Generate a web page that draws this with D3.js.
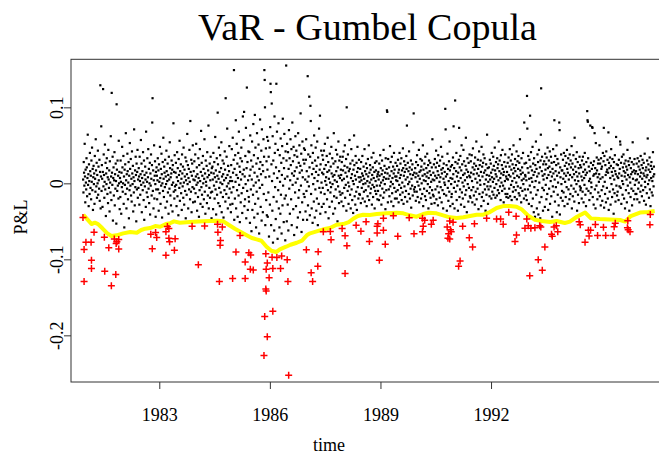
<!DOCTYPE html>
<html>
<head>
<meta charset="utf-8">
<script src="https://cdn.jsdelivr.net/npm/d3@7"></script>
<style>
  body { margin: 0; background: #fff; }
  svg { display: block; }
  text { font-family: "Liberation Serif", "Times New Roman", serif; fill: #000; }
</style>
</head>
<body>
<svg width="659" height="455"></svg>
<script>
// tick labels
const xTicks = [1983, 1986, 1989, 1992];
const yTicks = [-0.2, -0.1, 0, 0.1];

// daily P&L above the VaR, in 1/1000, one row per half year from 1980.93
const blockStart = 1980.93;
const blockSpan = 0.5;
const pnlBlocks = [
  [5,-12,28,14,-3,52,9,-25,18,1,-8,33,21,-17,7,64,-2,12,-30,25,3,-14,40,16,-6,10,-21,30,2,47,-9,19,-35,8,23,-1,13,-27,36,6,-11,58,17,-4,27,-19,11,0,43,-15,22,4,-7,31,-23,15,129,-33,9,75],
  [-10,24,6,-31,15,124,-4,38,11,-19,2,51,-8,27,-43,13,-1,33,20,-14,8,-26,44,5,-6,17,-37,29,1,-12,62,9,-22,119,14,-2,35,-49,7,21,-16,4,41,-29,12,-7,26,3,-53,104,18,-10,30,-3,10,-20,56,0,15,-34],
  [7,-18,30,2,-40,14,-5,48,21,-11,0,36,-27,9,-58,18,-2,25,-14,66,4,-33,12,-7,39,16,-21,1,28,-46,10,-9,53,19,-3,32,-16,6,-24,42,13,-1,23,-37,8,-12,71,3,-29,17,-5,35,11,-50,26,-8,15,44,-19,5],
  [-6,20,9,-28,35,3,-15,12,57,-2,26,-38,7,16,-9,41,1,-22,30,-48,11,-4,22,5,-31,68,14,-12,2,33,-18,8,45,-7,19,-26,0,27,-41,13,-3,38,6,-16,24,80,112,-10,17,-33,4,50,-20,10,29,-1,-44,15,-8,21],
  [10,-21,4,33,-8,17,-36,25,2,-13,48,7,-27,19,-3,39,12,-45,0,28,-10,60,6,-18,22,14,-5,31,-32,9,-1,43,16,-24,3,26,-12,11,-40,35,5,-7,54,20,-16,8,-29,13,30,-2,18,-37,24,1,79,-11,15,-20,37,-4],
  [-9,14,27,-2,-30,8,41,-17,20,3,-42,32,11,-6,56,-23,16,0,25,-13,6,-35,38,13,-4,22,-19,47,1,-28,18,9,-10,34,-46,4,29,-15,12,65,-1,24,-33,7,19,-8,44,2,-21,82,15,-11,31,-38,10,26,-5,50,-25,5],
  [16,-7,29,4,-24,38,-13,9,52,-2,21,-36,12,1,-18,33,7,-44,24,-9,45,3,-27,15,69,-5,27,-15,10,-31,36,0,19,-21,6,58,-11,13,-40,30,2,-3,23,-26,41,8,-16,17,76,-33,11,-6,26,-19,4,35,-12,14,-46,20],
  [-11,22,5,-34,40,13,-3,28,-20,8,61,-8,17,-41,2,33,-15,10,93,25,-26,6,47,-6,15,-30,37,1,-12,20,54,-38,9,-1,30,-18,12,-45,26,4,-9,42,18,-24,112,7,-14,35,-4,72,11,-33,23,0,-19,16,49,-7,3,-28],
  [8,-38,24,-12,45,3,-27,60,14,-5,31,149,-48,19,-20,37,2,83,-33,11,52,-9,26,-44,7,40,-16,68,-2,22,-51,15,33,-25,5,47,-13,29,-39,12,88,-6,57,18,94,-30,9,-21,36,-1,73,-46,20,126,-10,28,-35,4,42,-18],
  [-24,41,10,-52,63,18,-8,30,-63,5,55,-35,22,-15,78,-3,37,-45,14,90,-27,47,1,-58,26,-11,66,9,-40,33,-20,51,4,-66,19,-6,84,28,-31,12,43,-49,71,-2,24,-38,16,58,-14,35,149,136,100,-55,8,46,-22,29,-42,61],
  [18,-44,56,-12,35,-70,9,47,-28,74,131,120,-55,25,105,3,-36,62,-78,30,-18,13,-62,88,40,-5,52,-47,21,131,-24,68,7,-73,44,-9,79,-33,16,-58,37,2,-40,59,-15,27,-66,11,49,-29,85,-3,33,-51,20,65,-20,6,-75,42],
  [-16,155,30,-50,52,9,-28,41,-62,19,70,-7,33,-40,4,58,24,-21,45,-55,13,80,-2,29,-34,48,10,-68,37,16,-12,62,1,-30,43,21,-58,35,6,-45,66,-19,27,-9,50,14,-38,23,92,-3,39,-64,17,-25,55,8,-48,31,-14,46],
  [26,-18,44,5,-37,31,58,-10,16,-48,2,141,-29,38,9,-4,114,21,-42,35,102,82,-14,50,-33,12,27,-52,40,-1,19,-24,63,7,-45,30,-8,47,15,-36,23,-20,55,3,-55,34,11,-27,72,-6,18,89,-40,25,-12,43,1,-31,14,37],
  [-6,31,12,-27,43,19,-14,52,3,-38,24,8,-2,36,-21,15,60,-9,28,-46,6,17,-31,39,1,-12,22,-5,48,13,-24,33,-1,9,-40,26,66,-17,11,4,-33,29,-8,44,16,-19,2,38,-50,21,-4,55,10,-26,30,-11,7,35,-15,18],
  [11,-24,28,4,-13,35,17,-30,42,6,-6,23,50,-19,14,-2,32,-36,100,9,21,-10,38,1,-27,16,-4,57,19,-15,26,-33,7,45,-8,12,-22,30,3,-39,18,-1,63,24,-17,10,-28,36,5,-11,27,-35,15,48,-5,20,-20,8,31,-14],
  [2,-15,19,8,-26,28,4,-6,13,36,-20,10,-1,22,-11,6,45,-24,16,0,-9,26,12,-30,20,3,-17,32,9,-4,50,-22,14,1,24,-13,18,-7,5,34,-28,11,-2,21,-18,40,7,-5,15,-33,27,-10,3,17,-14,29,-3,9,-21,12],
  [-10,15,5,-22,26,10,-3,37,-16,20,1,-28,12,30,-7,17,4,-19,44,8,-12,23,-1,14,-34,33,6,-9,19,96,94,13,-25,32,6,-8,21,-17,10,49,-4,28,2,-24,16,35,-13,7,-1,22,-30,13,40,-6,18,-20,9,27,-11,4],
  [9,-20,23,3,-9,31,14,-25,18,-2,40,7,-15,26,11,-6,33,-22,17,1,-12,46,20,-27,10,29,-4,15,-18,24,5,-10,36,19,76,-24,8,27,-1,16,-14,42,2,21,-20,12,-7,30,-32,6,18,-3,25,-16,11,54,92,-8,14,-11],
  [-5,20,8,-23,28,13,-11,37,2,-18,24,10,-3,44,-25,15,6,-8,32,17,-20,22,0,30,-14,10,50,-30,18,4,-7,26,12,-17,35,3,-22,20,9,-10,39,14,-1,24,-33,7,30,-13,16,-5,27,-19,11,2,-27,21,-9,58,5,-15],
  [14,-17,25,4,-26,32,10,-8,21,43,-21,7,27,-4,16,-29,37,11,-12,23,2,-19,30,8,-5,48,18,-25,13,35,-9,20,-33,6,26,-14,1,15,-2,98,71,9,-16,24,-36,12,39,-6,19,-23,3,29,-11,55,17,-30,7,22,-1,-18],
  [-14,24,6,-27,34,12,75,-6,20,-33,2,109,28,-11,16,40,-22,9,-3,26,-36,14,3,31,73,-18,21,-8,36,7,-28,17,50,-12,25,1,-20,11,44,-4,29,-31,13,4,-15,23,60,-9,18,-38,8,33,-1,15,-24,27,-6,10,38,-17],
  [8,-19,29,14,-9,37,3,-25,21,46,-5,12,-16,26,18,-28,34,6,-11,23,55,-21,13,1,-7,31,19,-34,10,42,-14,24,4,-2,30,15,-30,48,-18,22,9,-12,27,38,-23,14,-1,33,-8,17,-36,5,25,-15,11,64,-4,20,-27,2],
  [-8,21,10,-17,31,5,-4,26,14,-20,40,8,-11,18,2,35,-15,23,6,-6,47,17,-19,12,28,-1,9,-16,33,20,-9,25,4,55,-13,16,30,-4,7,-22,37,13,1,24,-10,44,19,-3,11,-25,15,28,-7,3,38,-14,22,9,-18,6],
  [15,-14,27,5,-19,34,11,-7,22,45,-17,9,30,-2,18,-22,38,3,25,-11,13,50,-5,20,7,-18,32,16,-9,24,1,42,-21,10,29,-4,19,36,-13,8,27,-16,58,17,-6,12,-25,33,4,21,-10,14,40,-1,6,-20,80,26,-8,11],
  [9,-16,27,4,-22,115,72,20,-8,36,14,-27,6,31,-3,89,22,-12,41,7,-30,17,2,48,-20,26,11,-38,33,-5,15,-44,24,3,55,-15,19,-33,9,38,-9,28,-41,13,44,1,-25,21,-46,30,64,125,-18,16,35,-6,10,-36,25,5],
  [-9,29,12,-31,39,18,-2,25,-21,34,7,-14,47,20,-35,11,30,-7,22,42,-27,15,3,35,-17,27,9,-44,19,-4,45,13,-11,28,83,5,-24,36,16,-5,24,50,-38,10,32,-15,1,26,-29,14,80,70,-41,21,8,-19,38,-1,17,-10],
  [17,-23,31,6,-12,40,13,-30,23,2,36,-18,10,27,-5,44,19,-27,14,33,-8,5,25,-21,38,11,-14,30,21,-3,49,-33,8,26,-17,18,37,-7,12,-24,60,4,22,-11,32,15,-1,41,-36,9,28,-15,3,20,-26,13,35,-4,24,-9],
  [-6,21,9,-20,30,4,-11,35,15,-25,25,7,-2,40,18,-15,11,-30,28,-7,14,95,83,81,33,-10,22,3,-22,16,6,76,-13,27,1,-5,19,74,73,-18,24,10,-28,29,12,66,-8,20,-33,53,13,-3,34,17,-21,8,26,-12,31,2],
  [12,50,-17,26,6,-29,33,19,-9,22,-23,8,40,-4,29,73,-32,36,2,-14,24,11,-25,42,15,-6,18,31,-20,14,67,-35,27,20,-11,34,7,-28,23,45,-1,15,-18,32,10,-8,20,-40,28,5,-13,37,16,-24,12,61,-3,25,-16,9],
  [-11,24,7,-22,31,13,-4,19,55,51,-6,27,-27,10,35,3,-15,21,-1,38,16,-20,26,9,-33,14,30,-9,22,5,-25,18,44,-3,11,29,-13,24,-36,8,33,1,-18,20,12,-7,28,-29,15,54,6,-10,25,17,-21,32,-2,13,-14,4],
  [16,-14,26,5,-21,33,12,-7,22,1,29,-25,18,9,-11,36,14,-3,24,-17,6,31,20,-9,13,27,-23,10,39,2,-5,17,-28,21,8,-13,30,11,59,-1,25,18,-19,4,34,-8,15,-30,23,7,28,-12,19,3,-16,41,9,-4,22,12]
];

// days where the loss went through the VaR: [year, P&L]
const losses = [
  [1980.93,-0.045],[1981.23,-0.0645],[1981.01,-0.0776],[1981.15,-0.0776],[1980.96,-0.0871],
  [1981.51,-0.0711],[1981.16,-0.1013],[1981.16,-0.1121],[1980.96,-0.1292],[1981.52,-0.1158],
  [1981.82,-0.1200],[1981.70,-0.1349],[1981.63,-0.0849],[1981.90,-0.0864],[1981.78,-0.0733],
  [1981.85,-0.0768],[1981.90,-0.0739],[1981.83,-0.0792],[1982.81,-0.0862],[1982.77,-0.0670],
  [1982.90,-0.0647],[1982.93,-0.0713],[1983.22,-0.0567],[1983.26,-0.0595],[1983.18,-0.0637],
  [1983.26,-0.0722],[1983.43,-0.0729],[1983.28,-0.0770],[1983.41,-0.0880],[1983.18,-0.0947],
  [1984.06,-0.1072],[1983.89,-0.0566],[1984.23,-0.0562],[1984.58,-0.0539],[1984.71,-0.0575],
  [1984.59,-0.0645],[1984.66,-0.0753],[1984.65,-0.0814],[1984.63,-0.1292],[1985.08,-0.0904],
  [1984.99,-0.1253],[1985.33,-0.1253],[1985.33,-0.1036],[1985.43,-0.0914],[1985.48,-0.0943],
  [1985.47,-0.1130],[1985.55,-0.1141],[1985.19,-0.0687],[1985.89,-0.0928],[1985.93,-0.1049],
  [1985.90,-0.1130],[1986.08,-0.1121],[1986.29,-0.1121],[1985.98,-0.1243],[1986.49,-0.1292],
  [1985.89,-0.1391],[1985.90,-0.1417],[1985.86,-0.1753],[1986.08,-0.1683],[1985.93,-0.2020],
  [1985.84,-0.2266],[1986.51,-0.2525],[1986.06,-0.0972],[1986.19,-0.0976],[1986.32,-0.0957],
  [1986.47,-0.1007],[1986.99,-0.0875],[1987.31,-0.0901],[1987.30,-0.1091],[1987.12,-0.1178],
  [1987.16,-0.1292],[1987.66,-0.0743],[1987.64,-0.0634],[1987.45,-0.0637],[1987.96,-0.0595],
  [1988.04,-0.0691],[1988.09,-0.0822],[1988.04,-0.1187],[1988.34,-0.0551],[1988.47,-0.0630],
  [1988.61,-0.0507],[1988.70,-0.0766],[1988.97,-0.1013],[1988.93,-0.0532],[1988.91,-0.0566],
  [1989.08,-0.0461],[1988.91,-0.0654],[1989.08,-0.0618],[1989.13,-0.0803],[1989.47,-0.0697],
  [1989.35,-0.0426],[1989.91,-0.0663],[1990.14,-0.0461],[1990.20,-0.0487],[1990.16,-0.0566],
  [1990.14,-0.0637],[1990.43,-0.0487],[1990.38,-0.0539],[1989.78,-0.0453],[1990.81,-0.0575],
  [1990.90,-0.0611],[1990.92,-0.0637],[1990.85,-0.0663],[1990.83,-0.0724],[1990.88,-0.0733],
  [1990.88,-0.0496],[1990.97,-0.0513],[1991.23,-0.0566],[1991.55,-0.0532],[1991.41,-0.0716],
  [1991.50,-0.0838],[1991.16,-0.1022],[1991.12,-0.1092],[1991.88,-0.0461],[1992.15,-0.0470],
  [1992.26,-0.0470],[1992.33,-0.0539],[1992.48,-0.0382],[1992.68,-0.0434],[1992.69,-0.0680],
  [1992.65,-0.0766],[1992.97,-0.0470],[1993.01,-0.0558],[1992.92,-0.0592],[1993.08,-0.0592],
  [1993.19,-0.0584],[1993.32,-0.0558],[1993.35,-0.0575],[1993.77,-0.0558],[1993.71,-0.0575],
  [1993.81,-0.0637],[1993.64,-0.0671],[1993.66,-0.0697],[1993.46,-0.0838],[1993.28,-0.1005],
  [1993.39,-0.1145],[1993.05,-0.1216],[1994.39,-0.0507],[1994.42,-0.0546],[1994.64,-0.0617],
  [1994.70,-0.0617],[1994.66,-0.0693],[1994.55,-0.0775],[1994.83,-0.0542],[1994.89,-0.0687],
  [1995.05,-0.0578],[1995.11,-0.0687],[1995.31,-0.0687],[1995.34,-0.0572],[1995.37,-0.0525],
  [1995.70,-0.0584],[1995.72,-0.0611],[1995.77,-0.0637],[1995.71,-0.0492],[1996.31,-0.0546],
  [1996.32,-0.0411]
];

// the VaR estimate (yellow line)
const varDates = [1980.94,1981.05,1981.16,1981.25,1981.34,1981.45,1981.59,1981.70,1981.84,1982.02,
  1982.21,1982.39,1982.51,1982.62,1982.75,1982.89,1983.02,1983.18,1983.29,1983.40,
  1983.56,1983.83,1984.19,1984.56,1984.74,1984.88,1985.05,1985.21,1985.37,1985.51,
  1985.64,1985.77,1985.91,1986.04,1986.17,1986.27,1986.44,1986.56,1986.73,1986.87,
  1987.00,1987.09,1987.27,1987.45,1987.63,1987.81,1987.99,1988.14,1988.26,1988.39,
  1988.53,1988.71,1988.90,1989.17,1989.44,1989.62,1989.80,1989.98,1990.16,1990.31,
  1990.52,1990.70,1990.88,1991.07,1991.25,1991.43,1991.61,1991.79,1991.97,1992.15,
  1992.33,1992.51,1992.69,1992.84,1993.01,1993.19,1993.37,1993.60,1993.78,1994.00,
  1994.14,1994.32,1994.55,1994.71,1994.95,1995.22,1995.50,1995.64,1995.79,1996.04,
  1996.26,1996.44];
const varValues = [-0.0413,-0.0474,-0.0536,-0.0518,-0.0536,-0.0588,-0.0658,-0.0693,-0.0684,-0.0658,
  -0.0641,-0.0650,-0.0614,-0.0597,-0.0588,-0.0562,-0.0571,-0.0536,-0.0526,-0.0500,
  -0.0518,-0.0509,-0.0500,-0.0492,-0.0500,-0.0545,-0.0597,-0.0641,-0.0684,-0.0720,
  -0.0737,-0.0755,-0.0834,-0.0887,-0.0904,-0.0868,-0.0834,-0.0808,-0.0782,-0.0755,
  -0.0684,-0.0658,-0.0632,-0.0605,-0.0588,-0.0545,-0.0536,-0.0509,-0.0466,-0.0430,
  -0.0413,-0.0417,-0.0404,-0.0395,-0.0387,-0.0395,-0.0421,-0.0439,-0.0404,-0.0387,
  -0.0395,-0.0421,-0.0447,-0.0457,-0.0447,-0.0430,-0.0413,-0.0413,-0.0378,-0.0325,
  -0.0299,-0.0299,-0.0308,-0.0345,-0.0426,-0.0479,-0.0496,-0.0509,-0.0496,-0.0522,
  -0.0503,-0.0443,-0.0384,-0.0461,-0.0470,-0.0476,-0.0483,-0.0503,-0.0430,-0.0384,
  -0.0378,-0.0364];

// plot box, R style
const boxLeft = 71, boxRight = 664, boxTop = 59.3, boxBottom = 382;

const x = d3.scaleLinear().domain([1980.605, 1996.692]).range([boxLeft, boxRight]);
const y = d3.scaleLinear().domain([-0.2614, 0.1632]).range([boxBottom, boxTop]);

const svg = d3.select("svg");

// spread each half year block evenly over its dates
let pnl = [];
pnlBlocks.forEach((block, k) => {
  block.forEach((v, i) => {
    pnl.push([blockStart + k * blockSpan + (i + 0.5) / block.length * blockSpan, v / 1000]);
  });
});

let plot = svg.append("g");

plot.selectAll("rect.pt")
  .data(pnl)
  .enter()
  .append("rect")
  .attr("class", "pt")
  .attr("x", (d) => x(d[0]) - 1.1)
  .attr("y", (d) => y(d[1]) - 1.1)
  .attr("width", 2.2)
  .attr("height", 2.2)
  .attr("fill", "#000");

const varLine = d3.line()
  .x((d) => x(d[0]))
  .y((d) => y(d[1]));

plot.append("path")
  .datum(varDates.map((d, i) => [d, varValues[i]]))
  .attr("d", varLine)
  .attr("fill", "none")
  .attr("stroke", "#ffff00")
  .attr("stroke-width", 4)
  .attr("stroke-linejoin", "round");

plot.selectAll("path.cross")
  .data(losses)
  .enter()
  .append("path")
  .attr("class", "cross")
  .attr("transform", (d) => `translate(${x(d[0])},${y(d[1])})`)
  .attr("d", "M-3.5,0H3.5M0,-3.5V3.5")
  .attr("stroke", "#ff0000")
  .attr("stroke-width", 1.5);

// box
svg.append("rect")
  .attr("x", boxLeft).attr("y", boxTop)
  .attr("width", boxRight - boxLeft).attr("height", boxBottom - boxTop)
  .attr("fill", "none")
  .attr("stroke", "#333")
  .attr("stroke-width", 1);

// axes
const xAxis = svg.append("g")
  .attr("transform", `translate(0,${boxBottom})`)
  .call(d3.axisBottom(x).tickValues(xTicks).tickSize(7).tickFormat(d3.format("d")));
xAxis.select(".domain").remove();
xAxis.selectAll("line").attr("stroke", "#333");
xAxis.selectAll("text")
  .attr("y", 0).attr("dy", null)
  .attr("transform", "translate(0,39)")
  .style("font-family", "'Liberation Serif', serif")
  .style("font-size", "18px");

const yAxis = svg.append("g")
  .attr("transform", `translate(${boxLeft},0)`)
  .call(d3.axisLeft(y).tickValues(yTicks).tickSize(7).tickFormat((d) => String(d)));
yAxis.select(".domain").remove();
yAxis.selectAll("line").attr("stroke", "#333");
yAxis.selectAll("text")
  .attr("x", null).attr("dy", null)
  .attr("text-anchor", "middle")
  .attr("transform", "translate(-8,0) rotate(-90)")
  .style("font-family", "'Liberation Serif', serif")
  .style("font-size", "18px");

// titles
svg.append("text")
  .attr("x", 367.5).attr("y", 40)
  .attr("text-anchor", "middle")
  .attr("font-size", 38)
  .text("VaR - Gumbel Copula");

svg.append("text")
  .attr("x", 329).attr("y", 451)
  .attr("text-anchor", "middle")
  .attr("font-size", 18)
  .text("time");

svg.append("text")
  .attr("transform", "translate(27,217) rotate(-90)")
  .attr("text-anchor", "middle")
  .attr("font-size", 18)
  .text("P&L");
</script>
</body>
</html>
